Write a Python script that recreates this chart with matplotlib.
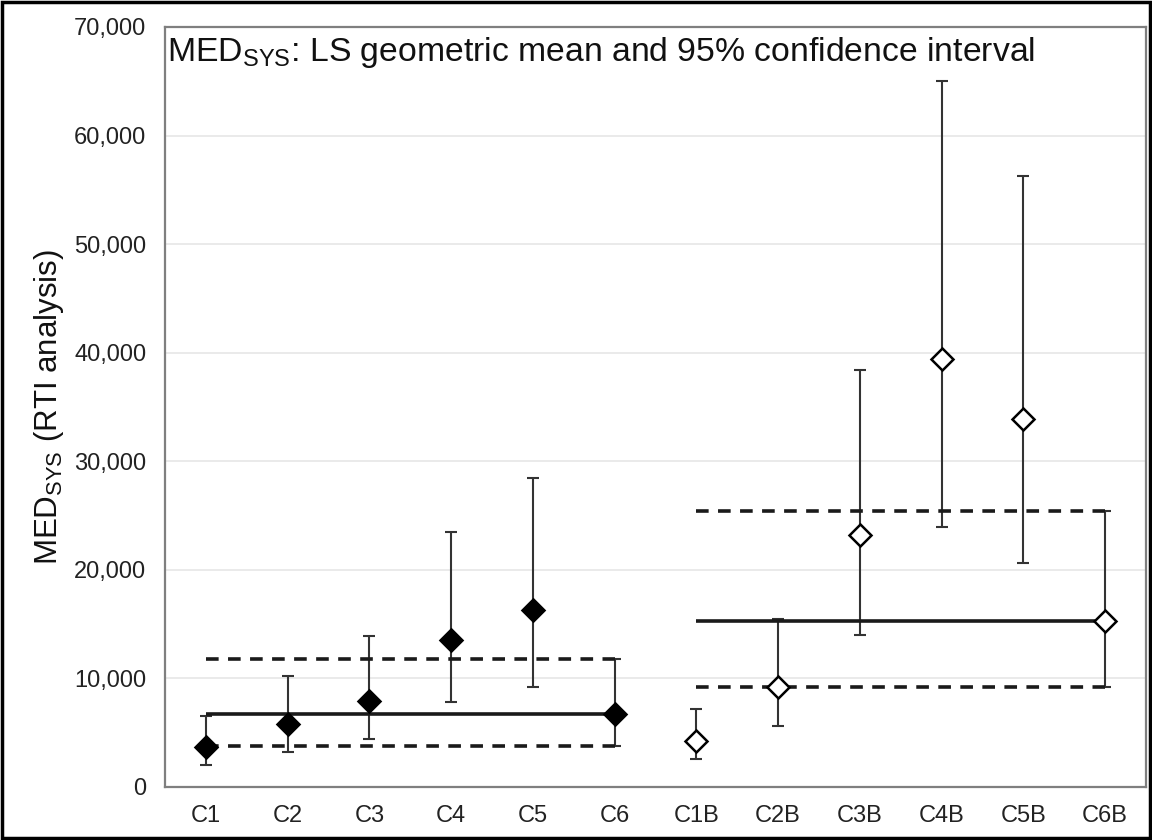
import matplotlib
matplotlib.use("Agg")
import matplotlib.pyplot as plt
from matplotlib.patches import Rectangle
from matplotlib.ticker import FuncFormatter
import numpy as np

plt.rcParams['font.family'] = ['Liberation Sans', 'DejaVu Sans']
plt.rcParams['mathtext.default'] = 'regular'

categories = ["C1", "C2", "C3", "C4", "C5", "C6", "C1B", "C2B", "C3B", "C4B", "C5B", "C6B"]
means = [3700, 5800, 7900, 13500, 16300, 6700, 4250, 9200, 23200, 39400, 33900, 15300]
lower = [2050, 3250, 4450, 7800, 9250, 3750, 2600, 5600, 14000, 23900, 20600, 9250]
upper = [6500, 10200, 13900, 23500, 28500, 11750, 7150, 15450, 38400, 65000, 56250, 25400]
group_filled = [True] * 6 + [False] * 6

# reference lines per group: (first index, last index)
group_start = [0, 6]
group_end = [5, 11]
ref_mean = [6700, 15300]
ref_lo = [3800, 9250]
ref_hi = [11750, 25400]

fig = plt.figure(figsize=(11.52, 8.4), dpi=100)
ax = fig.add_axes([0.1432, 0.0631, 0.8516, 0.9048])

x = np.arange(len(categories))
ax.set_xlim(-0.5, len(categories) - 0.5)
ax.set_ylim(0, 70000)
ax.set_yticks(np.arange(0, 70001, 10000))
ax.yaxis.set_major_formatter(FuncFormatter(lambda v, p: f"{int(v):,}"))
ax.set_xticks(x)
ax.set_xticklabels(categories)
ax.tick_params(axis='both', length=0, labelsize=17, colors='#222222')
ax.tick_params(axis='y', pad=13.5)
ax.tick_params(axis='x', pad=13)
ax.grid(axis='y', color='#e6e6e6', lw=1.2, zorder=0)
ax.set_axisbelow(True)
for s in ax.spines.values():
    s.set_color('#7f7f7f')
    s.set_linewidth(1.6)

# reference lines
for g in range(len(ref_mean)):
    xs, xe = group_start[g], group_end[g]
    ax.hlines(ref_mean[g], xs, xe, colors='#1a1a1a', lw=2.6, zorder=3)
    ax.hlines([ref_lo[g], ref_hi[g]], xs, xe, colors='#1a1a1a', lw=2.6,
              linestyles=(0, (3.5, 2.6)), zorder=3)

m = np.array(means)
lo = np.array(lower)
hi = np.array(upper)
ax.errorbar(x, m, yerr=[m - lo, hi - m], fmt='none', ecolor='#333333',
            elinewidth=1.5, capsize=4.5, capthick=1.5, zorder=2)

for xi, mi, f in zip(x, means, group_filled):
    ax.plot(xi, mi, marker='D', ms=11, mfc='black' if f else 'white',
            mec='black', mew=1.8, ls='none', zorder=5)

ax.text(0.002, 0.99, "MED$_{SYS}$: LS geometric mean and 95% confidence interval",
        transform=ax.transAxes, ha='left', va='top', fontsize=24.3, color='#111111')

ax.set_ylabel("MED$_{SYS}$ (RTI analysis)", fontsize=22.5, color='#111111', labelpad=6)

fig.patches.append(Rectangle((0.0015, 0.002), 0.997, 0.996, transform=fig.transFigure,
                             fill=False, edgecolor='black', lw=2.5))

fig.savefig("out.png", dpi=100)
